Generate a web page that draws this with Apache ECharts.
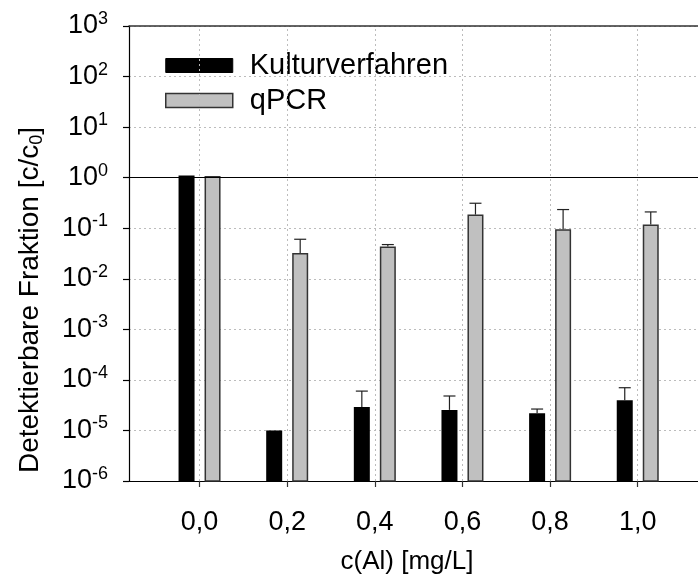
<!DOCTYPE html>
<html>
<head>
<meta charset="utf-8">
<script src="https://cdn.jsdelivr.net/npm/echarts@6/dist/echarts.min.js"></script>
<style>
  html, body { margin: 0; padding: 0; background: #ffffff; }
  #chart { width: 698px; height: 579px; }
</style>
</head>
<body>
<div id="chart"></div>
<script>
// Aluminium concentrations c(Al) in mg/L and their tick labels
const concentrations = [0.0, 0.2, 0.4, 0.6, 0.8, 1.0];
const xTickLabels = ['0,0', '0,2', '0,4', '0,6', '0,8', '1,0'];

// Detectable fraction c/c0, mean and upper end of the error bar
const kulturMean  = [1.1, 1.0e-5, 2.9e-5, 2.55e-5, 2.2e-5, 3.95e-5];
const kulturUpper = [null, null, 6.0e-5, 4.8e-5, 2.65e-5, 7.0e-5];
const qpcrMean    = [1.08, 0.0324, 0.0434, 0.186, 0.0953, 0.118];
const qpcrUpper   = [null, 0.0605, 0.0475, 0.312, 0.234, 0.21];

// Decade exponents for the log axis labels (10^-6 ... 10^3)
const yExponents = ['-6', '-5', '-4', '-3', '-2', '-1', '0', '1', '2', '3'];

const seriesNames = ['Kulturverfahren', 'qPCR'];
const xTitle = 'c(Al) [mg/L]';
const yTitle = 'Detektierbare Fraktion [c/c{sub|0}]';

const FONT = '"Liberation Sans", Arial, sans-serif';
const Y_MIN = 1e-6, Y_MAX = 1e3;
const BAR_W = 16, BAR_OFFSET = 13, CAP_W = 12;

function rows(mean, upper) {
  return concentrations.map((c, i) => [c, mean[i], upper[i] == null ? '-' : upper[i]]);
}

function barRenderer(offset, fill, stroke) {
  return function (params, api) {
    const x = api.value(0), v = api.value(1), e = api.value(2);
    const top = api.coord([x, v]);
    const base = api.coord([x, Y_MIN]);
    const cx = top[0] + offset;
    const children = [];
    const inset = stroke ? 0.75 : 0;
    children.push({
      type: 'rect',
      shape: { x: cx - BAR_W / 2 + inset, y: top[1] + inset, width: BAR_W - 2 * inset, height: base[1] - top[1] - inset },
      style: stroke ? { fill: fill, stroke: stroke, lineWidth: 1.5 } : { fill: fill }
    });
    if (!isNaN(e) && e > v) {
      const ep = api.coord([x, e]);
      const errStyle = { stroke: '#222', lineWidth: 1.2 };
      children.push({ type: 'line', shape: { x1: cx, y1: top[1], x2: cx, y2: ep[1] }, style: errStyle });
      children.push({ type: 'line', shape: { x1: cx - CAP_W / 2, y1: ep[1], x2: cx + CAP_W / 2, y2: ep[1] }, style: errStyle });
    }
    return { type: 'group', children: children };
  };
}

const chart = echarts.init(document.getElementById('chart'), null, { renderer: 'canvas' });

chart.setOption({
  animation: false,
  backgroundColor: '#ffffff',
  textStyle: { fontFamily: FONT },
  grid: { left: 129, top: 26, right: 0, bottom: 98, containLabel: false },
  legend: {
    orient: 'vertical',
    left: 165,
    top: 51,
    padding: 0,
    itemWidth: 67,
    itemHeight: 14,
    itemGap: 6,
    selectedMode: false,
    textStyle: { fontFamily: FONT, fontSize: 29, color: '#000', padding: [0, 0, 0, 12] },
    data: [
      { name: seriesNames[0], icon: 'rect', itemStyle: { color: '#000000', borderColor: '#000000', borderWidth: 1 } },
      { name: seriesNames[1], icon: 'rect', itemStyle: { color: '#c0c0c0', borderColor: '#333333', borderWidth: 1.5 } }
    ]
  },
  graphic: [
    {
      type: 'text',
      x: 407,
      y: 562,
      style: { text: xTitle, fontFamily: FONT, fontSize: 26, fill: '#000', align: 'center', verticalAlign: 'middle' }
    },
    {
      type: 'text',
      x: 30,
      y: 300,
      rotation: Math.PI / 2,
      style: {
        text: yTitle,
        fontFamily: FONT,
        fontSize: 28,
        fill: '#000',
        align: 'center',
        verticalAlign: 'middle',
        rich: {
          sub: { fontFamily: FONT, fontSize: 18, fill: '#000', verticalAlign: 'bottom', padding: [14, 0, 0, 0] }
        }
      }
    }
  ],
  xAxis: [
    {
      type: 'value',
      min: -0.161,
      max: 1.1375,
      axisLine: { show: true, onZero: false, lineStyle: { color: '#000', width: 1.2 } },
      axisTick: { show: true, inside: false, length: 6, customValues: concentrations, lineStyle: { color: '#333', width: 1.2 } },
      axisLabel: {
        show: true,
        customValues: concentrations,
        margin: 28,
        fontFamily: FONT,
        fontSize: 27,
        color: '#000',
        formatter: function (v) {
          const i = concentrations.findIndex(c => Math.abs(c - v) < 1e-9);
          return i >= 0 ? xTickLabels[i] : '';
        }
      },
      splitLine: { show: false }
    },
    {
      type: 'value',
      position: 'top',
      min: -0.161,
      max: 1.1375,
      axisLine: { show: true, onZero: false, lineStyle: { color: '#333', width: 1.5 } },
      axisTick: { show: false },
      axisLabel: { show: false },
      splitLine: { show: false }
    }
  ],
  yAxis: {
    type: 'log',
    logBase: 10,
    min: Y_MIN,
    max: Y_MAX,
    axisLine: { show: true, onZero: false, lineStyle: { color: '#000', width: 1.2 } },
    axisTick: { show: true, inside: false, length: 6, lineStyle: { color: '#000', width: 1.2 } },
    axisLabel: {
      margin: 21,
      formatter: function (v) {
        const i = Math.round(Math.log10(v)) + 6;
        return '{b|10}{s|' + yExponents[i] + '}';
      },
      rich: {
        b: { fontFamily: FONT, fontSize: 27, color: '#000', lineHeight: 32 },
        s: { fontFamily: FONT, fontSize: 18, color: '#000', verticalAlign: 'top', lineHeight: 32, padding: [0, 0, 12, 0] }
      }
    },
    splitLine: { show: true, lineStyle: { color: '#bcbcbc', width: 1, type: [2, 3] } }
  },
  series: [
    {
      // reference lines: vertical dotted grid at each concentration, solid line at c/c0 = 1
      type: 'line',
      name: 'grid',
      data: [],
      z: 1,
      markLine: {
        silent: true,
        symbol: ['none', 'none'],
        label: { show: false },
        data: concentrations.map(c => ({ xAxis: c, lineStyle: { color: '#bcbcbc', width: 1, type: [2, 3] } }))
          .concat([{ yAxis: 1, lineStyle: { color: '#000', width: 1.2, type: 'solid' } }])
      }
    },
    {
      type: 'custom',
      name: seriesNames[0],
      coordinateSystem: 'cartesian2d',
      z: 3,
      itemStyle: { color: '#000000' },
      renderItem: barRenderer(-BAR_OFFSET, '#000000', null),
      encode: { x: 0, y: 1 },
      data: rows(kulturMean, kulturUpper)
    },
    {
      type: 'custom',
      name: seriesNames[1],
      coordinateSystem: 'cartesian2d',
      z: 3,
      itemStyle: { color: '#c0c0c0' },
      renderItem: barRenderer(BAR_OFFSET, '#c0c0c0', '#333333'),
      encode: { x: 0, y: 1 },
      data: rows(qpcrMean, qpcrUpper)
    }
  ]
});
</script>
</body>
</html>
